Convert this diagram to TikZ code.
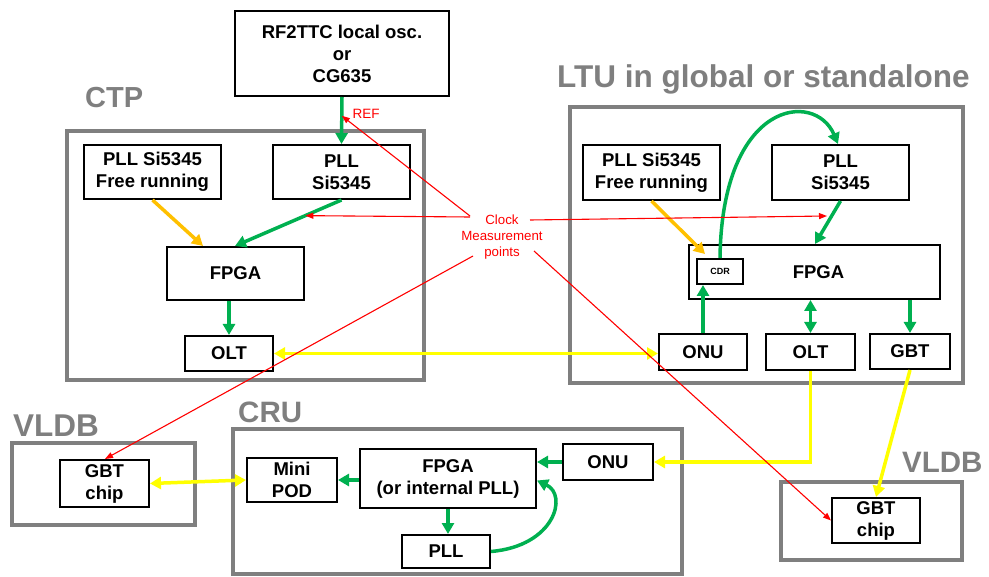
\documentclass[tikz,border=0pt]{standalone}
\usepackage{fontspec}
\setmainfont{Liberation Sans}
\usetikzlibrary{arrows.meta,calc}
\definecolor{cgreen}{RGB}{0,176,80}
\definecolor{cyellow}{RGB}{255,255,0}
\definecolor{corange}{RGB}{255,192,0}
\definecolor{cred}{RGB}{255,0,0}
\definecolor{ggray}{RGB}{127,127,127}
\tikzset{
  blk/.style={draw=black, line width=2pt, fill=white, inner sep=0pt, align=center,
    font=\bfseries\fontsize{18.5}{22}\selectfont, anchor=north west},
  grp/.style={draw=ggray, line width=4pt},
  glabel/.style={text=ggray, anchor=base west, inner sep=0pt},
  garr/.style={draw=cgreen, line width=3.5pt, -{Triangle[length=11pt,width=12pt]}},
  gdarr/.style={draw=cgreen, line width=3.5pt, {Triangle[length=11pt,width=12pt]}-{Triangle[length=11pt,width=12pt]}},
  oarr/.style={draw=corange, line width=3.5pt, -{Triangle[length=11pt,width=12pt]}},
  yarr/.style={draw=cyellow, line width=3.5pt, -{Triangle[length=11pt,width=12pt]}},
  ydarr/.style={draw=cyellow, line width=3.5pt, {Triangle[length=11pt,width=12pt]}-{Triangle[length=11pt,width=12pt]}},
  rarr/.style={draw=cred, line width=1.1pt, -{Triangle[length=8pt,width=6pt]}},
}
\begin{document}
\begin{tikzpicture}[x=1pt,y=-1pt]
\useasboundingbox (0,0) rectangle (989,577);
% group frames
\draw[grp] (67,131) rectangle (424,380);
\draw[grp] (570,107) rectangle (963,383);
\draw[grp] (12,443) rectangle (195,525);
\draw[grp] (233,429) rectangle (682,574);
\draw[grp] (781,482) rectangle (962,560);
% group labels
\node[glabel, font=\bfseries\fontsize{29}{32}\selectfont] (lctp) at (85,108) {CTP};
\node[glabel, font=\bfseries\fontsize{31.5}{34}\selectfont] (lltu) at (557,88) {LTU in global or standalone};
\node[glabel, font=\bfseries\fontsize{29.5}{32}\selectfont] (lcru) at (238,423) {CRU};
\node[glabel, font=\bfseries\fontsize{31.5}{34}\selectfont] (lvl1) at (13,437) {VLDB};
\node[glabel, font=\bfseries\fontsize{29.5}{32}\selectfont] (lvl2) at (902,473) {VLDB};
% boxes
\node[blk, minimum width=214pt, minimum height=85pt] (rf) at (234,10) {RF2TTC local osc.\\or\\CG635};
\node[blk, minimum width=137pt, minimum height=54pt] (ctpfree) at (83,144) {PLL Si5345\\Free running};
\node[blk, minimum width=137pt, minimum height=54pt] (ctppll) at (272,144) {PLL\\Si5345};
\node[blk, minimum width=137pt, minimum height=53pt] (ctpfpga) at (166,246) {FPGA};
\node[blk, minimum width=88pt, minimum height=35pt] (ctpolt) at (184,335) {OLT};
\node[blk, minimum width=137pt, minimum height=55pt] (ltufree) at (582,144) {PLL Si5345\\Free running};
\node[blk, minimum width=137pt, minimum height=55pt] (ltupll) at (771,144) {PLL\\Si5345};
\node[blk, minimum width=251pt, minimum height=54pt, text width=251pt, align=center] (ltufpga) at (688,244) {\hspace*{8pt}FPGA};
\node[blk, minimum width=46pt, minimum height=25pt, font=\bfseries\fontsize{9}{10}\selectfont] (cdr) at (696,258) {CDR};
\node[blk, minimum width=88pt, minimum height=36pt] (ltuonu) at (658,333) {ONU};
\node[blk, minimum width=89pt, minimum height=36pt] (ltuolt) at (765,333) {OLT};
\node[blk, minimum width=80pt, minimum height=35pt] (ltugbt) at (869,333) {GBT};
\node[blk, minimum width=89pt, minimum height=47pt] (vl1gbt) at (59,459) {GBT\\chip};
\node[blk, minimum width=90pt, minimum height=44pt] (minipod) at (246,457) {Mini\\POD};
\node[blk, minimum width=176pt, minimum height=59pt] (crufpga) at (359,448) {FPGA\\(or internal PLL)};
\node[blk, minimum width=90pt, minimum height=36pt] (cruonu) at (562,443) {ONU};
\node[blk, minimum width=88pt, minimum height=33pt] (crupll) at (401,534) {PLL};
\node[blk, minimum width=88pt, minimum height=45pt] (vl2gbt) at (831,497) {GBT\\chip};
% CTP connections
\draw[garr] (rf.south) -- (ctppll.north);
\draw[oarr] (ctpfree.south) -- ([xshift=37pt]ctpfpga.north west);
\draw[garr] (ctppll.south) -- ([xshift=69pt]ctpfpga.north west);
\draw[garr] (ctpolt.north |- ctpfpga.south) -- (ctpolt.north);
\draw[ydarr] (ctpolt.east) -- (ctpolt.east -| ltuonu.west);
% LTU connections
\draw[oarr] (ltufree.south) -- ([xshift=17pt,yshift=-10pt]ltufpga.north west);
\draw[garr] (cdr.north) .. controls (722,100) and (815,90) .. ([xshift=67pt]ltupll.north west);
\draw[garr] (ltupll.south) -- ([xshift=127pt]ltufpga.north west);
\draw[garr] (ltuonu.north) -- (ltuonu.north |- cdr.south);
\draw[gdarr] (ltuolt.north |- ltufpga.south) -- (ltuolt.north);
\draw[garr] (ltugbt.north |- ltufpga.south) -- (ltugbt.north);
\draw[yarr] (ltuolt.south) |- (cruonu.east);
\draw[yarr] (ltugbt.south) -- (vl2gbt.north);
% CRU connections
\draw[ydarr] (vl1gbt.east) -- (minipod.west);
\draw[garr] (cruonu.west) -- (cruonu.west -| crufpga.east);
\draw[garr] (crufpga.west |- minipod.east) -- (minipod.east);
\draw[garr] (crufpga.south) -- (crufpga.south |- crupll.north);
\draw[garr] (crupll.east) .. controls (555,546) and (568,495) .. ([yshift=-2pt]crufpga.east);
% measurement points
\node[text=cred, font=\fontsize{13.3}{16}\selectfont, align=center, inner sep=0pt] (cm) at (502,237) {Clock\\Measurement\\points};
\node[text=cred, font=\fontsize{13.5}{15}\selectfont, inner sep=0pt] (ref) at (366,114) {REF};
\coordinate (c1) at (470,216);
\coordinate (c2) at (470,217);
\coordinate (c3) at (530,220);
\coordinate (c4) at (473,256);
\coordinate (c5) at (534,251);
\coordinate (m3) at (827,216);
\draw[rarr] (c1) -- ($(rf.south)!0.4!(ctppll.north)$);
\draw[rarr] (c2) -- ($(ctppll.south)!0.34!([xshift=69pt]ctpfpga.north west)$);
\draw[rarr] (c3) -- (m3);
\draw[rarr] (c4) -- ([xshift=46pt]vl1gbt.north west);
\draw[rarr] (c5) -- (vl2gbt.west);
\end{tikzpicture}
\end{document}
